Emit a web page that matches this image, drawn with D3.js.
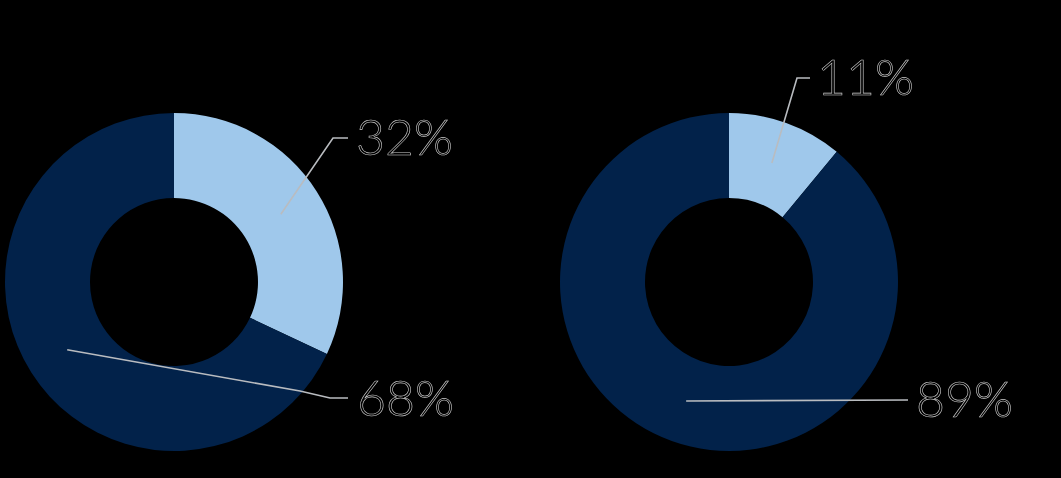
<!DOCTYPE html>
<html><head><meta charset="utf-8">
<script src="https://cdn.jsdelivr.net/npm/d3@7"></script>
<style>html,body{margin:0;padding:0;background:#000;}svg{display:block;}</style>
</head><body>
<svg id="chart" width="1061" height="478"></svg>
<script>
const charts = ["left", "right"];
const categories = ["Light", "Dark"];
const leftValues = [32, 68];
const rightValues = [11, 89];
const labels = [["32%", "68%"], ["11%", "89%"]];

const svg = d3.select("#chart");
svg.append("rect").attr("width", 1061).attr("height", 478).attr("fill", "#000");

const color = d3.scaleOrdinal().domain(categories).range(["#9fc8eb", "#02224a"]);
const outerR = 169, innerR = 84;
const arc = d3.arc().innerRadius(innerR).outerRadius(outerR);
const pie = d3.pie().sort(null).value(d => d.v);

const centers = [[174, 282], [729, 282]];
// leader path offsets (relative to the centroid and to the label anchor)
const leaders = [
  [ {bend: [[333, 138]], end: [348, 138], text: [356, 155]},
    {bend: [[300, 391], [330, 398]], end: [348, 398], text: [357, 416]} ],
  [ {bend: [[797, 78]], end: [810, 78], text: [817, 95]},
    {bend: [], end: [908, 400], text: [916, 417]} ]
];

[leftValues, rightValues].forEach((vals, ci) => {
  const data = pie(vals.map((v, i) => ({v, c: categories[i]})));
  const g = svg.append("g").attr("transform", `translate(${centers[ci][0]},${centers[ci][1]})`);
  g.selectAll("path").data(data).join("path")
    .attr("d", arc).attr("fill", d => color(d.data.c));
  data.forEach((d, i) => {
    const c = arc.centroid(d);
    const start = [c[0] + centers[ci][0], c[1] + centers[ci][1]];
    const L = leaders[ci][i];
    const pts = [start, ...L.bend, L.end];
    svg.append("path").attr("d", d3.line()(pts))
      .attr("fill", "none").attr("stroke", "#b9bcc0").attr("stroke-width", 1.6);
    svg.append("text").attr("x", L.text[0]).attr("y", L.text[1])
      .attr("font-family", "Lato, sans-serif").attr("font-weight", 300)
      .attr("font-size", 50).attr("fill", "#000")
      .attr("stroke", "#cfcfcf").attr("stroke-width", 0.6)
      .text(labels[ci][i]);
  });
});
</script>
</body></html>
